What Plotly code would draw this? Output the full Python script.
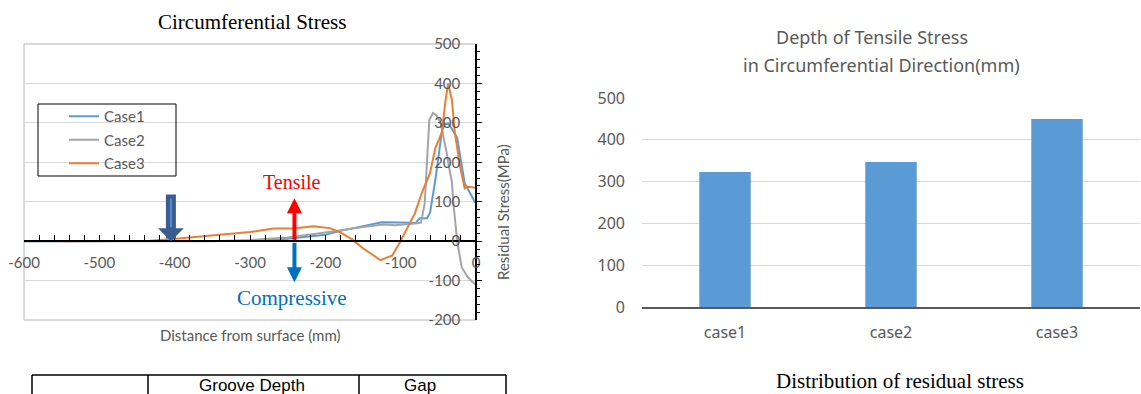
import plotly.graph_objects as go

W, H = 1141, 394

# Residual circumferential stress (MPa) versus distance from surface (mm)
case1_depth = [-600, -550, -500, -450, -400, -350, -300, -250, -200, -180, -150, -125, -100,
               -80, -75, -65, -61, -54, -45, -41, -37, -32, -25, -19, -15, -8, 0]
case1_stress = [0, 0, 0, 0, 0, 0, 1, 6, 16, 26, 38, 48, 47,
                 46, 58, 58, 72, 155, 282, 297, 298, 285, 262, 188, 147, 122, 95]

case2_depth = [-600, -550, -500, -450, -400, -350, -300, -250, -200, -180, -150, -123, -108,
               -81, -73, -68, -62, -57, -52, -47, -43, -39, -36, -32, -30, -25, -19, -11, -5, 0]
case2_stress = [0, 0, 0, 0, 0, 0, 3, 9, 22, 28, 36, 42, 40,
                45, 47, 97, 307, 325, 318, 300, 265, 225, 190, 150, 96, 0, -66, -91, -103, -110]

case3_depth = [-548, -500, -450, -433, -406, -344, -300, -269, -243, -216, -194, -180, -165,
               -150, -127, -111, -101, -81, -72, -61, -54, -45, -41, -37, -32, -28, -21, -15,
               -12, -5, 0]
case3_stress = [0, 0, 0, 1, 5, 15, 23, 32, 32, 38, 33, 22, 5,
                -18, -48, -36, -3, 71, 122, 173, 236, 277, 350, 400, 358, 274, 188, 134,
                138, 137, 135]

series_names = ["Case1", "Case2", "Case3"]
series_colors = ["#5b9bd5", "#a5a5a5", "#ed7d31"]

# Axis ticks of the stress chart (hyphen-minus labels)
depth_ticks = [-600, -500, -400, -300, -200, -100, 0]
stress_ticks = [-200, -100, 0, 100, 200, 300, 400, 500]

# Depth of tensile stress in circumferential direction (mm)
bar_cases = ["case1", "case2", "case3"]
bar_depths = [323, 347, 450]
depth_axis_ticks = [0, 100, 200, 300, 400, 500]

# Table header cells below the line chart
table_headers = ["Groove Depth", "Gap"]

SANS = "Lato, 'Noto Sans', sans-serif"
SANS_R = "'Noto Sans', 'Open Sans', sans-serif"
SERIF = "'Liberation Serif', 'DejaVu Serif', serif"
GREY = "#595959"


def fx(p):
    return p / W


def fy(p):
    return 1 - p / H


fig = go.Figure()

series = [(case1_depth, case1_stress), (case2_depth, case2_stress), (case3_depth, case3_stress)]
for (xs, ys), name, col in zip(series, series_names, series_colors):
    fig.add_trace(go.Scatter(
        x=xs, y=ys, mode="lines", name=name, legendgroup=name,
        line=dict(color=col, width=2),
        xaxis="x", yaxis="y",
    ))

fig.add_trace(go.Bar(
    x=bar_cases, y=bar_depths, marker=dict(color="#5b9bd5", line=dict(width=0)),
    xaxis="x2", yaxis="y2", showlegend=False,
))

left_x0, left_x1 = fx(24), fx(476)
left_y0, left_y1 = fy(320), fy(44)
zero_pos = left_y0 + (0 - (-200)) / 700 * (left_y1 - left_y0)

fig.update_layout(
    width=W, height=H, autosize=False,
    margin=dict(l=0, r=0, t=0, b=0, pad=0, autoexpand=False),
    paper_bgcolor="white", plot_bgcolor="white",
    bargap=0.69,
    xaxis=dict(
        domain=[left_x0, left_x1], range=[-600, 0], anchor="free", position=zero_pos,
        automargin=False,
        tickmode="array", tickvals=depth_ticks, ticktext=[str(v) for v in depth_ticks],
        showgrid=False, zeroline=False,
        showline=True, linecolor="black", linewidth=1.5,
        ticks="inside", ticklen=5, tickcolor="black", tickwidth=1,
        minor=dict(dtick=20, ticks="inside", ticklen=5, tickcolor="black", showgrid=False),
        tickfont=dict(family=SANS, size=15, color=GREY),
        ticklabelstandoff=8,
    ),
    # vertical axis sits at depth 0 (right edge); labels to its left, ticks to its right
    yaxis=dict(
        domain=[left_y0, left_y1], range=[-200, 500], anchor="free", position=left_x1,
        side="left", automargin=False,
        tickmode="array", tickvals=stress_ticks, ticktext=[str(v) for v in stress_ticks],
        showgrid=True, gridcolor="#d9d9d9", gridwidth=1, zeroline=False,
        showline=True, linecolor="black", linewidth=1.5,
        ticks="inside", ticklen=5, tickcolor="black",
        minor=dict(dtick=20, ticks="inside", ticklen=3, tickcolor="black", showgrid=False),
        tickfont=dict(family=SANS, size=15, color=GREY),
        ticklabelstandoff=12,
    ),
    xaxis2=dict(
        domain=[fx(642), fx(1140)], anchor="y2", type="category",
        automargin=False,
        showgrid=False, zeroline=False,
        showline=True, linecolor=GREY, linewidth=1.5, ticks="",
        tickfont=dict(family=SANS_R, size=16, color=GREY),
        ticklabelstandoff=10,
    ),
    yaxis2=dict(
        domain=[fy(307), fy(98)], range=[0, 500], anchor="x2",
        automargin=False,
        tickmode="array", tickvals=depth_axis_ticks,
        showgrid=True, gridcolor="#d9d9d9", gridwidth=1, zeroline=False,
        showline=False, ticks="",
        tickfont=dict(family=SANS_R, size=16, color=GREY),
        ticklabelstandoff=16,
    ),
    legend=dict(
        x=fx(64), y=fy(100), xanchor="left", yanchor="top",
        bgcolor="rgba(0,0,0,0)", borderwidth=0,
        font=dict(family=SANS, size=15, color=GREY),
        tracegroupgap=1,
    ),
    showlegend=True,
)

shapes = [
    # plot-area frame of the stress chart
    dict(type="rect", xref="paper", yref="paper", x0=left_x0, x1=left_x1, y0=left_y0, y1=left_y1,
         line=dict(color="#b4b4b4", width=1), layer="below"),
    # legend frame
    dict(type="rect", xref="paper", yref="paper", x0=fx(38), x1=fx(176), y0=fy(176), y1=fy(104),
         line=dict(color="black", width=1)),
    # table rules
    dict(type="line", xref="paper", yref="paper", x0=fx(32), x1=fx(506), y0=fy(375), y1=fy(375),
         line=dict(color="black", width=1.5)),
]
for xv in (32, 148, 359, 506):
    shapes.append(dict(type="line", xref="paper", yref="paper", x0=fx(xv), x1=fx(xv),
                       y0=fy(375), y1=fy(400), line=dict(color="black", width=1.5)))
fig.update_layout(shapes=shapes)

ann = []
# titles and captions
ann.append(dict(text="Circumferential Stress", x=fx(252), y=fy(22), xref="paper", yref="paper",
                showarrow=False, font=dict(family=SERIF, size=21, color="black"),
                xanchor="center", yanchor="middle"))
ann.append(dict(text="Distance from surface (mm)", x=fx(250), y=fy(335), xref="paper", yref="paper",
                showarrow=False, font=dict(family=SANS, size=15, color=GREY),
                xanchor="center", yanchor="middle"))
ann.append(dict(text="Residual Stress(MPa)", x=fx(503), y=fy(212), xref="paper", yref="paper",
                showarrow=False, textangle=-90, font=dict(family=SANS, size=15, color=GREY),
                xanchor="center", yanchor="middle"))
ann.append(dict(text="Tensile", x=fx(292), y=fy(182), xref="paper", yref="paper",
                showarrow=False, font=dict(family=SERIF, size=20, color="#ff0000"),
                xanchor="center", yanchor="middle"))
ann.append(dict(text="Compressive", x=fx(292), y=fy(298), xref="paper", yref="paper",
                showarrow=False, font=dict(family=SERIF, size=21, color="#0070c0"),
                xanchor="center", yanchor="middle"))
ann.append(dict(text="Depth of Tensile Stress", x=fx(872), y=fy(37), xref="paper", yref="paper",
                showarrow=False, font=dict(family=SANS_R, size=18, color=GREY),
                xanchor="center", yanchor="middle"))
ann.append(dict(text="in Circumferential Direction(mm)", x=fx(881), y=fy(65), xref="paper", yref="paper",
                showarrow=False, font=dict(family=SANS_R, size=18, color=GREY),
                xanchor="center", yanchor="middle"))
ann.append(dict(text="Distribution of residual stress", x=fx(900), y=fy(381), xref="paper", yref="paper",
                showarrow=False, font=dict(family=SERIF, size=21, color="black"),
                xanchor="center", yanchor="middle"))
for txt, cx in zip(table_headers, (252, 420)):
    ann.append(dict(text=txt, x=fx(cx), y=fy(385), xref="paper", yref="paper",
                    showarrow=False, font=dict(family="'Liberation Sans', Arial, sans-serif",
                                               size=17, color="black"),
                    xanchor="center", yanchor="middle"))

# arrows on the stress chart
ann.append(dict(x=-405, y=0, ax=-405, ay=122, xref="x", yref="y", axref="x", ayref="y",
                text="", showarrow=True, arrowhead=1, arrowwidth=10, arrowsize=0.43,
                arrowcolor="#3a5d91"))
ann.append(dict(x=-405, y=35, ax=-405, ay=112, xref="x", yref="y", axref="x", ayref="y",
                text="", showarrow=True, arrowhead=0, arrowwidth=2, arrowcolor="#5d8bcb"))
ann.append(dict(x=-241, y=109, ax=-241, ay=0, xref="x", yref="y", axref="x", ayref="y",
                text="", showarrow=True, arrowhead=2, arrowwidth=4, arrowsize=0.75,
                arrowcolor="#ff0000"))
ann.append(dict(x=-241, y=-104, ax=-241, ay=0, xref="x", yref="y", axref="x", ayref="y",
                text="", showarrow=True, arrowhead=2, arrowwidth=4, arrowsize=0.75,
                arrowcolor="#0070c0"))
fig.update_layout(annotations=ann)

fig.write_html("out.html")
